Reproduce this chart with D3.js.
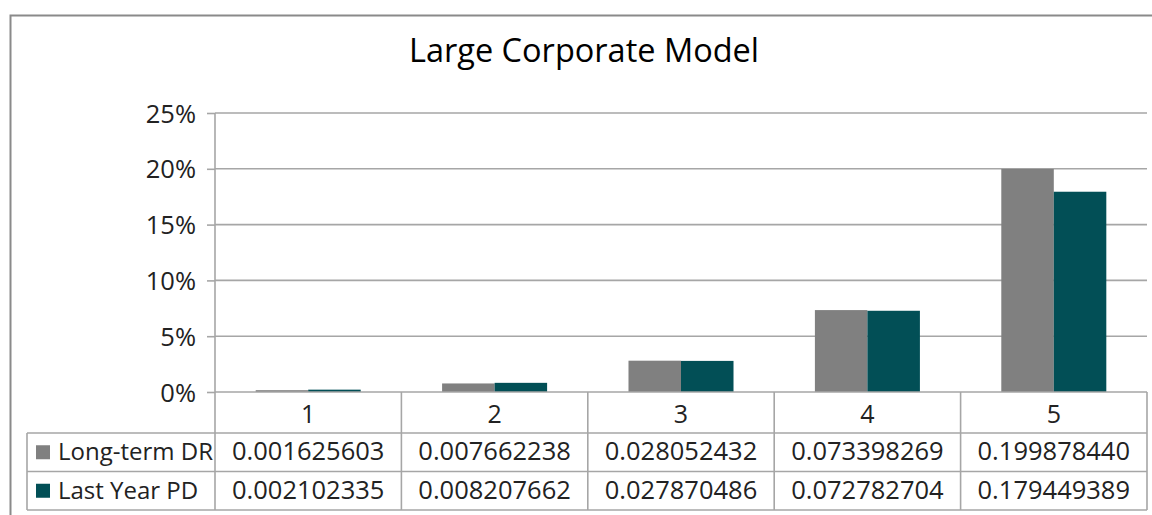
<!DOCTYPE html>
<html>
<head>
<meta charset="utf-8">
<script src="https://cdn.jsdelivr.net/npm/d3@7"></script>
<style>
  html, body { margin: 0; padding: 0; background: #fff; }
  svg { display: block; font-family: "Open Sans", "Noto Sans", sans-serif; }
</style>
</head>
<body>
<svg id="chart" width="1152" height="515"></svg>
<script>
// Rating grades on the x axis
const categories = ["1", "2", "3", "4", "5"];
// Series names and values per grade
const seriesNames = ["Long-term DR", "Last Year PD"];
const longTermDR = [0.001625603, 0.007662238, 0.028052432, 0.073398269, 0.199878440];
const lastYearPD = [0.002102335, 0.008207662, 0.027870486, 0.072782704, 0.179449389];
const yTicks = [0, 0.05, 0.10, 0.15, 0.20, 0.25];
const titleText = "Large Corporate Model";

const seriesValues = [longTermDR, lastYearPD];
const colors = ["#808080", "#024f56"];
const gridColor = "#a6a6a6";

const svg = d3.select("#chart");
const W = 1152, H = 515;

// plot frame
const plotLeft = 215, plotRight = 1147, plotTop = 113, plotBottom = 392;
const tableLeft = 27;
const rowH = 38.5;
const headerBottom = 433;
const rowBottoms = [headerBottom + rowH * 0, headerBottom + rowH, headerBottom + rowH * 2];

svg.append("rect").attr("width", W).attr("height", H).attr("fill", "#fff");

// outer chart border (left and top edges visible)
svg.append("path")
  .attr("d", `M10.5,${H} L10.5,15.5 L${W},15.5`)
  .attr("fill", "none").attr("stroke", "#8a8a8a").attr("stroke-width", 2);

// title
svg.append("text")
  .attr("x", 584).attr("y", 62)
  .attr("text-anchor", "middle")
  .attr("font-size", 32.5)
  .attr("fill", "#000")
  .text(titleText);

const x0 = d3.scaleBand().domain(categories).range([plotLeft, plotRight]).paddingInner(0).paddingOuter(0);
const x1 = d3.scaleBand().domain(seriesNames).range([0, x0.bandwidth()]).paddingInner(0).paddingOuter(0.775);
const y = d3.scaleLinear().domain([0, 0.25]).range([plotBottom, plotTop]);

// horizontal gridlines
svg.append("g").selectAll("line")
  .data(yTicks.filter(d => d > 0))
  .join("line")
  .attr("x1", plotLeft).attr("x2", plotRight)
  .attr("y1", d => y(d)).attr("y2", d => y(d))
  .attr("stroke", gridColor).attr("stroke-width", 1.6);

// bars
const groups = svg.append("g").selectAll("g")
  .data(categories)
  .join("g")
  .attr("transform", d => `translate(${x0(d)},0)`);

groups.selectAll("rect")
  .data((d, i) => seriesNames.map((s, j) => ({ s, v: seriesValues[j][i], c: colors[j] })))
  .join("rect")
  .attr("x", d => x1(d.s))
  .attr("width", x1.bandwidth())
  .attr("y", d => y(d.v))
  .attr("height", d => y(0) - y(d.v))
  .attr("fill", d => d.c);

// y axis
const yAxis = d3.axisLeft(y)
  .tickValues(yTicks)
  .tickFormat(d3.format(".0%"))
  .tickSize(8)
  .tickPadding(11);
const yAxisG = svg.append("g")
  .attr("transform", `translate(${plotLeft},0)`)
  .call(yAxis);
yAxisG.select(".domain").remove();
yAxisG.selectAll(".tick line").attr("stroke", gridColor).attr("stroke-width", 1.6);
yAxisG.selectAll(".tick text")
  .attr("font-size", 25.5).attr("fill", "#222")
  .attr("font-family", "Open Sans, sans-serif")
  .attr("dy", "0.36em");

// data table grid
const grid = svg.append("g").attr("stroke", gridColor).attr("stroke-width", 1.6);
// category axis line (top of the table)
grid.append("line").attr("x1", plotLeft).attr("x2", plotRight).attr("y1", plotBottom).attr("y2", plotBottom);
// vertical axis line through the table
grid.append("line").attr("x1", plotLeft).attr("x2", plotLeft).attr("y1", plotTop).attr("y2", rowBottoms[2]);
// category separators
grid.selectAll("line.sep")
  .data(categories)
  .join("line")
  .attr("class", "sep")
  .attr("x1", d => x0(d) + x0.bandwidth()).attr("x2", d => x0(d) + x0.bandwidth())
  .attr("y1", plotBottom).attr("y2", rowBottoms[2]);
// row lines
grid.selectAll("line.row")
  .data(rowBottoms)
  .join("line")
  .attr("class", "row")
  .attr("x1", tableLeft).attr("x2", plotRight)
  .attr("y1", d => d).attr("y2", d => d);
// left border of legend column
grid.append("line").attr("x1", tableLeft).attr("x2", tableLeft).attr("y1", rowBottoms[0]).attr("y2", rowBottoms[2]);

const tableText = svg.append("g")
  .attr("font-size", 25).attr("fill", "#222");

// category header row
tableText.selectAll("text.cat")
  .data(categories)
  .join("text")
  .attr("class", "cat")
  .attr("x", d => x0(d) + x0.bandwidth() / 2)
  .attr("y", 423)
  .attr("text-anchor", "middle")
  .text(d => d);

// value rows
seriesNames.forEach((name, j) => {
  const base = rowBottoms[j] + 27;
  const cy = rowBottoms[j] + rowH / 2;
  svg.append("rect")
    .attr("x", 36).attr("y", cy - 7)
    .attr("width", 14).attr("height", 14)
    .attr("fill", colors[j]);
  tableText.append("text")
    .attr("x", 58).attr("y", base)
    .attr("font-size", 24)
    .text(name);
  tableText.selectAll(null)
    .data(seriesValues[j])
    .join("text")
    .attr("x", (d, i) => x0(categories[i]) + x0.bandwidth() / 2)
    .attr("y", base)
    .attr("text-anchor", "middle")
    .attr("font-size", 25.5)
    .text(d => d.toFixed(9));
});
</script>
</body>
</html>
